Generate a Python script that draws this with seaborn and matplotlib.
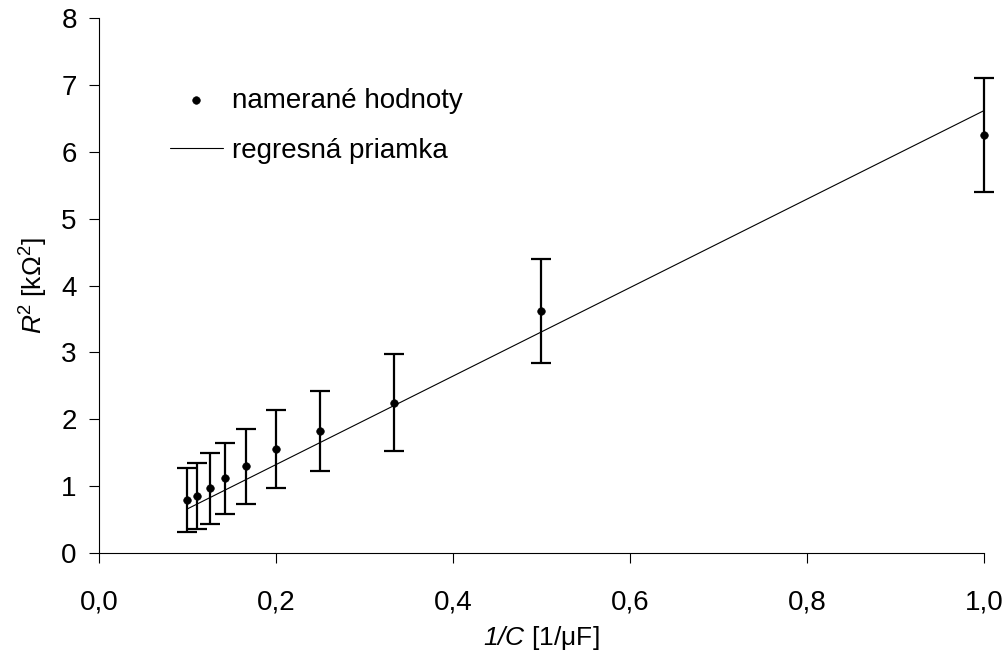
import numpy as np
import pandas as pd
import matplotlib
matplotlib.use("Agg")
import matplotlib.pyplot as plt
import seaborn as sns

# measured data: 1/C [1/uF] and R^2 [kOhm^2] with uncertainty
inv_c = [1 / 10, 1 / 9, 1 / 8, 1 / 7, 1 / 6, 1 / 5, 1 / 4, 1 / 3, 1 / 2, 1.0]
r_sq = [0.79, 0.85, 0.97, 1.12, 1.30, 1.56, 1.83, 2.25, 3.62, 6.25]
r_sq_err = [0.48, 0.49, 0.53, 0.53, 0.56, 0.58, 0.60, 0.72, 0.78, 0.85]

x_ticks = [0.0, 0.2, 0.4, 0.6, 0.8, 1.0]
x_tick_labels = ["0,0", "0,2", "0,4", "0,6", "0,8", "1,0"]
y_ticks = [0, 1, 2, 3, 4, 5, 6, 7, 8]

sns.set_style("ticks")
plt.rcParams["font.family"] = ["Liberation Sans", "DejaVu Sans"]
plt.rcParams["mathtext.fontset"] = "custom"
plt.rcParams["mathtext.rm"] = "Liberation Sans"
plt.rcParams["mathtext.it"] = "Liberation Sans:italic"
plt.rcParams["mathtext.sf"] = "Liberation Sans:italic"  # italic incl. digits
for key in ["text.color", "axes.labelcolor", "xtick.color", "ytick.color", "axes.edgecolor"]:
    plt.rcParams[key] = "black"

df = pd.DataFrame({"x": inv_c, "y": r_sq, "err": r_sq_err})

# regression line through the origin
x_arr = np.array(inv_c)
y_arr = np.array(r_sq)
slope = np.sum(x_arr * y_arr) / np.sum(x_arr ** 2)
fit_df = pd.DataFrame({"x": [x_arr.min(), x_arr.max()]})
fit_df["y"] = slope * fit_df["x"]

fig = plt.figure(figsize=(10.07, 6.53), dpi=100)
ax = fig.add_axes([0.0983, 0.153, 0.8788, 0.8195])

eb = ax.errorbar(df["x"], df["y"], yerr=df["err"], fmt="none", ecolor="black",
                 elinewidth=1.6, capsize=7, capthick=1.6, zorder=2)
for art in eb.get_children():
    art.set_clip_on(False)
sns.lineplot(data=fit_df, x="x", y="y", ax=ax, color="black", linewidth=0.8,
             label="regresná priamka", zorder=3)
sns.scatterplot(data=df, x="x", y="y", ax=ax, color="black", s=30,
                edgecolor="black", label="namerané hodnoty", zorder=4,
                clip_on=False)

ax.set_xlim(0, 1.0)
ax.set_ylim(0, 8)
ax.set_xticks(x_ticks)
ax.set_xticklabels(x_tick_labels)
ax.set_yticks(y_ticks)
ax.tick_params(axis="both", labelsize=20, length=7, width=0.8, direction="out")
ax.tick_params(axis="x", pad=19)
ax.tick_params(axis="y", pad=9)
sns.despine(ax=ax)
for sp in ["left", "bottom"]:
    ax.spines[sp].set_linewidth(0.8)

ax.set_xlabel(r"$\mathsf{1/C}$ [1/μF]", fontsize=19, labelpad=6)
ax.set_ylabel(r"$\mathsf{R}^2$ [kΩ$^2$]", fontsize=19, labelpad=8)

handles, labels = ax.get_legend_handles_labels()
order = [labels.index("namerané hodnoty"), labels.index("regresná priamka")]
ax.legend([handles[i] for i in order], [labels[i] for i in order],
          loc="upper left", bbox_to_anchor=(0.080, 0.87), frameon=False,
          borderaxespad=0, borderpad=0,
          fontsize=20, handlelength=1.9, handletextpad=0.35, labelspacing=0.88)

fig.savefig("out.png", dpi=100)
